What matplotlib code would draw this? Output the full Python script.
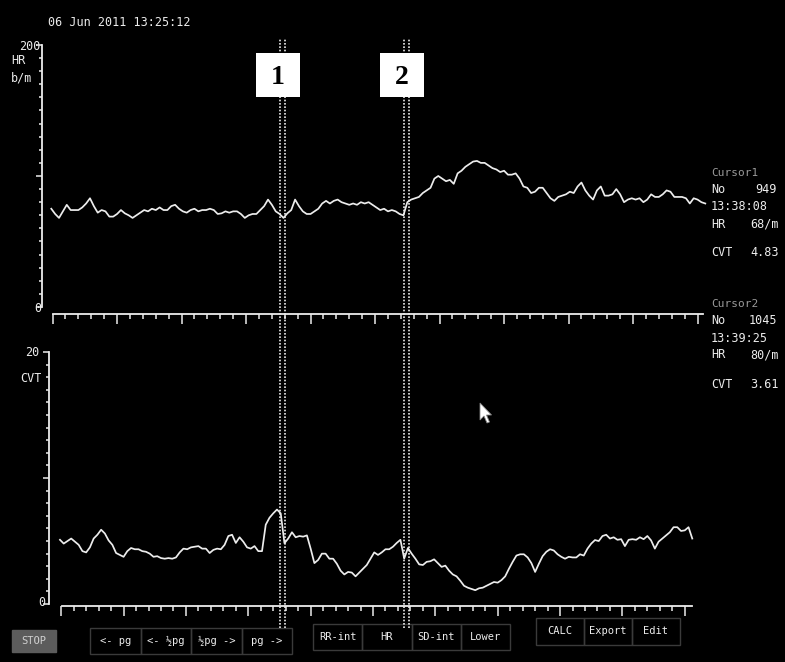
import numpy as np
import matplotlib
matplotlib.use("Agg")
import matplotlib.pyplot as plt
from matplotlib.patches import Rectangle, Polygon
from matplotlib.transforms import ScaledTranslation

W, H = 785, 662
FG = "#ececec"
DIM = "#9a9a9a"
MONO = "DejaVu Sans Mono"

# beat numbers (every 3rd beat) and the two trends
beats = np.arange(769, 1277, 3)
hr = [75, 71, 68, 73, 78, 74, 74, 74, 76, 79, 83, 77, 72, 74, 73, 69, 69, 71, 74, 71.5,
      70, 68, 70, 72, 74, 73, 75, 74, 76, 74, 74, 77, 78, 75, 73, 72, 74, 75, 73, 74,
      74, 75, 74, 71, 71.5, 73, 72, 73, 73, 71, 68, 70, 71, 71, 74, 77, 82, 78, 73, 71,
      68, 71.5, 74, 82, 77, 73, 71, 71, 73, 75, 79, 81, 79, 81, 82, 80, 79, 78, 79, 78,
      80, 79, 80, 78, 76, 74, 75, 73, 74, 73, 71, 70, 80, 82, 83, 84, 87, 89, 91, 98,
      100, 98, 96, 97, 94, 102, 104, 107, 109, 111, 111.5, 110, 110, 108, 106, 105, 103, 104, 101, 101,
      102, 98, 92, 91, 87, 88, 91, 91, 87, 83, 81, 84, 85, 86, 88, 87, 92, 95, 89, 85,
      82, 89, 92, 85, 85, 86, 90, 86, 80, 82, 83, 82, 83, 80, 82, 86, 84, 84, 86, 89,
      88, 84, 84, 84, 83, 79, 83, 82, 80, 79]
cvt = [5.1, 4.8, 5.0, 5.2, 4.95, 4.7, 4.2, 4.1, 4.5, 5.2, 5.5, 5.9, 5.6, 5.05, 4.7, 4.05, 3.9, 3.75, 4.2, 4.45,
       4.35, 4.35, 4.2, 4.15, 4.0, 3.75, 3.8, 3.65, 3.6, 3.65, 3.6, 3.7, 4.1, 4.4, 4.35, 4.5, 4.55, 4.6, 4.4, 4.4,
       4.05, 4.3, 4.4, 4.35, 4.7, 5.4, 5.5, 4.85, 5.3, 4.95, 4.5, 4.4, 4.6, 4.2, 4.2, 6.3, 6.85, 7.2, 7.5, 7.2,
       4.83, 5.2, 5.7, 5.3, 5.4, 5.35, 5.45, 4.4, 3.25, 3.5, 4.0, 4.0, 3.6, 3.6, 3.2, 2.65, 2.35, 2.55, 2.5, 2.2,
       2.5, 2.8, 3.1, 3.6, 4.1, 3.9, 4.1, 4.35, 4.35, 4.55, 4.85, 5.1, 3.61, 4.45, 4.0, 3.6, 3.15, 3.1, 3.35, 3.4,
       3.55, 3.25, 2.95, 3.05, 2.65, 2.35, 2.2, 1.85, 1.45, 1.3, 1.2, 1.1, 1.25, 1.3, 1.45, 1.6, 1.75, 1.7, 1.9, 2.2,
       2.8, 3.35, 3.85, 3.95, 3.95, 3.7, 3.25, 2.55, 3.2, 3.8, 4.15, 4.35, 4.25, 3.95, 3.75, 3.6, 3.75, 3.7, 3.7, 3.95,
       3.85, 4.4, 4.8, 5.08, 5.0, 5.4, 5.5, 5.2, 5.3, 5.1, 5.15, 4.6, 5.1, 5.15, 5.1, 5.3, 5.15, 5.4, 5.05, 4.4,
       4.95, 5.2, 5.45, 5.7, 6.1, 6.1, 5.8, 5.85, 6.1, 5.2]

cursor_no = [949, 1045]
cursor_time = ["13:38:08", "13:39:25"]
cursor_hr = [68, 80]
cursor_cvt = [4.83, 3.61]

fig = plt.figure(figsize=(W / 100, H / 100), dpi=100, facecolor="black")


def fx(px):
    return px / W


def fy(py):
    return 1 - py / H


def txt(x, y, s, color=FG, size=8.5, ha="left"):
    fig.text(fx(x), fy(y), s, color=color, fontsize=size, family=MONO,
             ha=ha, va="center")


def style_axes(ax, ybounds, ymajor, yminor, xbounds, xpos):
    ax.patch.set_visible(False)
    for side in ("top", "right"):
        ax.spines[side].set_visible(False)
    ax.spines["left"].set_bounds(*ybounds)
    ax.spines["bottom"].set_bounds(*xbounds)
    ax.spines["bottom"].set_position(("data", xpos))
    for side in ("left", "bottom"):
        ax.spines[side].set_color(FG)
        ax.spines[side].set_linewidth(1.3)
    ax.set_xticks(np.arange(770, 1276, 50))
    ax.set_xticks(np.arange(770, 1276, 10), minor=True)
    ax.set_yticks(ymajor)
    ax.set_yticks(yminor, minor=True)
    ax.tick_params(which="both", direction="out", color=FG, width=1.1,
                   labelbottom=False, labelleft=False)
    ax.tick_params(axis="x", which="major", length=7)
    ax.tick_params(axis="x", which="minor", length=3.5)
    ax.tick_params(axis="y", which="major", length=4)
    ax.tick_params(axis="y", which="minor", length=2)


# heart rate panel
ax1 = fig.add_axes([fx(42), fy(318), fx(712) - fx(42), fy(40) - fy(318)])
ax1.set_xlim(761.8, 1281.2)
ax1.set_ylim(-8.4, 203.8)
ax1.plot(beats, hr, color=FG, lw=1.25)
style_axes(ax1, (0, 200), [0, 100, 200], np.arange(0, 201, 10), (770.3, 1274), -5.3)

# CVT panel
ax2 = fig.add_axes([fx(49), fy(612), fx(700) - fx(49), fy(345) - fy(612)])
ax2.set_xlim(760.2, 1282.2)
ax2.set_ylim(-0.63, 20.56)
ax2.plot(beats, cvt, color=FG, lw=1.25)
style_axes(ax2, (0, 20), [0, 10, 20], np.arange(0, 21, 1), (770.6, 1275.8), -0.16)
ax1.set_zorder(3)

# cursors: double dotted lines through both panels plus numbered tags
for i, n in enumerate(cursor_no):
    for dx in (-3.5, 1.5):
        tr = ax1.get_xaxis_transform() + ScaledTranslation(dx / 100, 0, fig.dpi_scale_trans)
        ax1.plot([n, n], [-1.115, 1.007], transform=tr, color=FG, lw=1.2,
                 ls=(0, (1, 1)), clip_on=False, zorder=5)
    ax1.add_patch(Rectangle((n - 21.3, 160.3), 34, 33.6, facecolor="white",
                            edgecolor="none", clip_on=False, zorder=6))
    ax1.text(n - 4.3, 175.5, str(i + 1), color="black", fontsize=20,
             family="Liberation Serif", weight="bold", ha="center", va="center",
             zorder=7)

# header and axis captions
txt(48, 22, "06 Jun 2011 13:25:12")
txt(41, 47, "200", ha="right")
txt(11, 61, "HR")
txt(11, 78, "b/m")
txt(41, 309, "0", ha="right")
txt(39, 352, "20", ha="right")
txt(20, 378, "CVT")
txt(45, 603, "0", ha="right")

# cursor readouts
for i, top in enumerate((173, 304)):
    txt(711, top, f"Cursor{i + 1}", color=DIM, size=8)
    txt(711, top + 17, "No")
    txt(777, top + 17, str(cursor_no[i]), ha="right")
    txt(711, top + 34, cursor_time[i])
    txt(711, top + 51, "HR")
    txt(779, top + 51, f"{cursor_hr[i]}/m", ha="right")
    txt(711, top + 80, "CVT")
    txt(779, top + 80, f"{cursor_cvt[i]:.2f}", ha="right")


# soft-key bar
def box(x0, y0, x1, y1, face="none", edge="#3a3a3a"):
    fig.add_artist(Rectangle((fx(x0), fy(y1)), fx(x1) - fx(x0), fy(y0) - fy(y1),
                             transform=fig.transFigure, facecolor=face,
                             edgecolor=edge, lw=1.0))


box(12, 630, 56, 652, face="#5c5c5c", edge="#5c5c5c")
txt(34, 641, "STOP", color="#d0d0d0", size=7.5, ha="center")

groups = [
    (90, 628, 292, 654, ["<- pg", "<- ½pg", "½pg ->", "pg ->"]),
    (313, 624, 510, 650, ["RR-int", "HR", "SD-int", "Lower"]),
    (536, 618, 680, 645, ["CALC", "Export", "Edit"]),
]
for x0, y0, x1, y1, keys in groups:
    step = (x1 - x0) / len(keys)
    for j, key in enumerate(keys):
        box(x0 + j * step, y0, x0 + (j + 1) * step, y1)
        txt(x0 + (j + 0.5) * step, (y0 + y1) / 2, key, size=7.5, ha="center")

# mouse pointer
tip = np.array([[0, 0], [0, 17], [4, 13], [7, 20], [9.5, 19], [6.5, 12], [11.5, 12]])
pts = [(fx(480 + a), fy(403 + b)) for a, b in tip]
fig.add_artist(Polygon(pts, closed=True, transform=fig.transFigure,
                       facecolor="white", edgecolor="#888888", lw=0.6))

fig.savefig("out.png", dpi=100, facecolor="black")
